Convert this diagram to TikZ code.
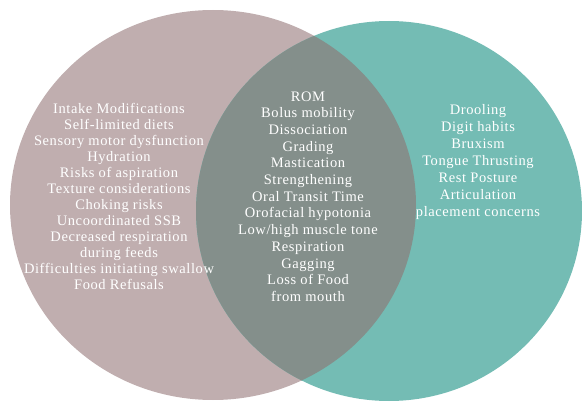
\documentclass[tikz,border=0pt]{standalone}
\usepackage{fontspec}
\setmainfont{Liberation Serif}[LetterSpace=4]
\definecolor{mauvec}{HTML}{C0AEAF}
\definecolor{tealc}{HTML}{74BCB4}
\definecolor{overlapc}{HTML}{848F8B}
\tikzset{
  txt/.style={text=white, align=center, inner sep=0pt, anchor=north},
}
\begin{document}
\begin{tikzpicture}[x=1pt,y=-1pt]
\useasboundingbox (0,0) rectangle (582,404);
\fill[mauvec] (213,205) ellipse [x radius=203pt, y radius=195pt];
\fill[tealc] (389,211) ellipse [x radius=193pt, y radius=190pt];
\begin{scope}
  \clip (213,205) ellipse [x radius=203pt, y radius=195pt];
  \fill[overlapc] (389,211) ellipse [x radius=193pt, y radius=190pt];
\end{scope}
\node[txt, font=\fontsize{14.5}{16}\selectfont] (leftlist) at (119,103.5) {Intake Modifications\\Self-limited diets\\Sensory motor dysfunction\\Hydration\\Risks of aspiration\\Texture considerations\\Choking risks\\Uncoordinated SSB\\Decreased respiration\\during feeds\\Difficulties initiating swallow\\Food Refusals};
\node[txt, font=\fontsize{14.5}{16.67}\selectfont] (midlist) at (308,91.5) {ROM\\Bolus mobility\\Dissociation\\Grading\\Mastication\\Strengthening\\Oral Transit Time\\Orofacial hypotonia\\Low/high muscle tone\\Respiration\\Gagging\\Loss of Food\\from mouth};
\node[txt, font=\fontsize{14.5}{17}\selectfont] (rightlist) at (478,104.5) {Drooling\\Digit habits\\Bruxism\\Tongue Thrusting\\Rest Posture\\Articulation\\placement concerns};
\end{tikzpicture}
\end{document}
